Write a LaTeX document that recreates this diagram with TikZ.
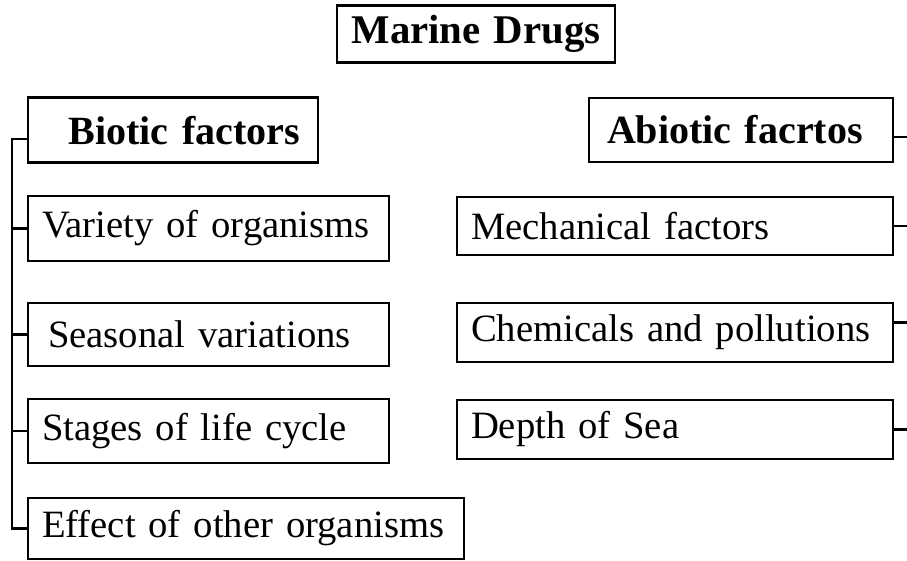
\documentclass[tikz,border=0pt]{standalone}
\usepackage{fontspec}
\setmainfont{Liberation Serif}
\usepackage{tikz}
\usetikzlibrary{positioning,calc}
\DeclareRobustCommand\boxfont{\fontsize{27.5}{30}\selectfont\spaceskip=0.15em\relax}
\DeclareRobustCommand\headfont{\fontsize{28.5}{30}\selectfont\bfseries\spaceskip=0.2em\relax}

\begin{document}
\begin{tikzpicture}[
  box/.style={draw, line width=2.1pt, inner xsep=0.35cm, inner ysep=0pt,
              font=\boxfont, align=left},
  headbox/.style={box, font=\headfont},
  link/.style={line width=1.7pt}]
  \useasboundingbox (0,0) rectangle (22.675,-14.025);
  \node[headbox, align=center, inner xsep=0.2cm, text width=6.55cm, minimum height=1.425cm] (drugs) at (11.9,-0.84)
    {\fontsize{29}{30}\selectfont Marine Drugs};
  \node[headbox, align=right, inner xsep=0.45cm, text width=6.35cm, minimum height=1.625cm] (biotic) at (4.325,-3.26) {Biotic factors};
  \node[headbox, inner xsep=0.45cm, text width=6.7cm, minimum height=1.6cm] (abiotic) at (18.525,-3.25) {Abiotic facrtos};
  \node[box, text width=8.325cm, minimum height=1.625cm] (variety) at (5.2125,-5.7125) {Variety of organisms};
  \node[box, inner xsep=0.5cm, text width=8.025cm, minimum height=1.575cm] (seasonal) at (5.2125,-8.3625) {Seasonal variations};
  \node[box, text width=8.325cm, minimum height=1.6cm] (stages) at (5.2125,-10.775) {Stages of life cycle};
  \node[box, text width=10.2cm, minimum height=1.525cm] (effect) at (6.15,-13.2125) {Effect of other organisms};
  \node[box, text width=10.2cm, minimum height=1.45cm] (mech) at (16.875,-5.65) {Mechanical factors};
  \node[box, text width=10.2cm, minimum height=1.475cm] (chem) at (16.875,-8.3125) {Chemicals and pollutions};
  \node[box, text width=10.2cm, minimum height=1.475cm] (depth) at (16.875,-10.7375) {Depth of Sea};
  \coordinate (spine) at (0.3,0);
  \coordinate (edge) at (22.675,0);
  \draw[link] ([yshift=-0.22cm]biotic.west) -| (spine |- effect.west) -- (effect.west);
  \foreach \n in {variety,seasonal,stages}
    \draw[link] (\n.west) -- (\n.west -| spine);
  \draw[link] ([yshift=-0.18cm]abiotic.east) -- ([yshift=-0.18cm]abiotic.east -| edge);
  \draw[link] (mech.east) -- (mech.east -| edge);
  \draw[link] ([yshift=0.25cm]chem.east) -- ([yshift=0.25cm]chem.east -| edge);
  \draw[link] (depth.east) -- (depth.east -| edge);
\end{tikzpicture}
\end{document}
